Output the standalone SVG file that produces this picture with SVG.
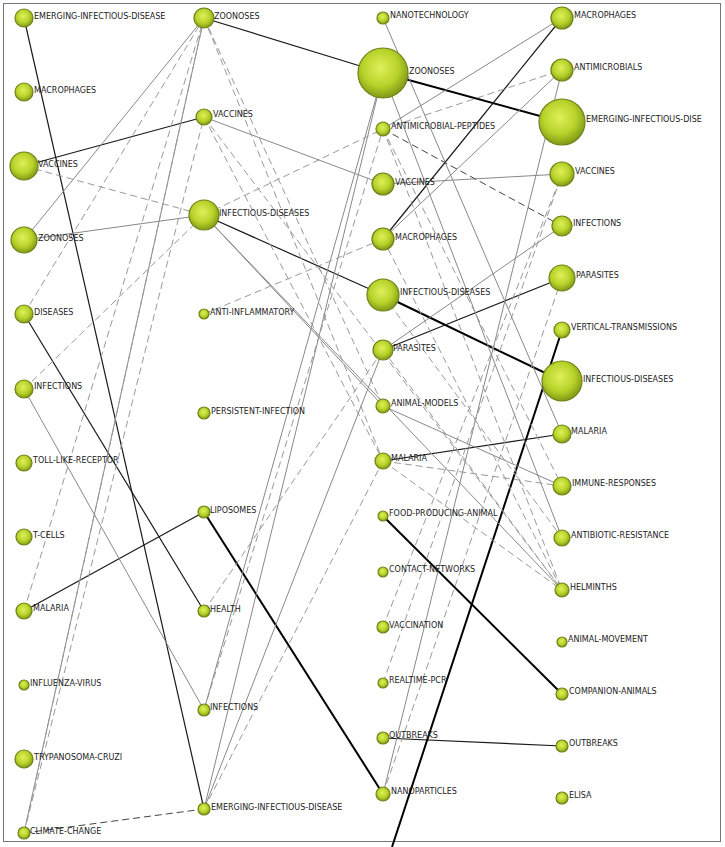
<svg xmlns="http://www.w3.org/2000/svg" width="725" height="847" viewBox="0 0 725 847">
<defs>
<radialGradient id="g" cx="0.45" cy="0.4" r="0.6">
<stop offset="0" stop-color="#dff05a"/><stop offset="0.6" stop-color="#b8d22a"/><stop offset="1" stop-color="#7f9a16"/>
</radialGradient>
<style>
circle{fill:url(#g);stroke:#6d8318;stroke-width:1.2}
text{font-family:"DejaVu Sans",Verdana,sans-serif;font-size:8px;fill:#222}
.d{stroke:#1a1a1a;stroke-width:1.2;fill:none}
.t{stroke:#000;stroke-width:2;fill:none}
.s{stroke:#888;stroke-width:1;fill:none}
.h{stroke:#999;stroke-width:1;stroke-dasharray:7,4;fill:none}
.hd{stroke:#444;stroke-width:1;stroke-dasharray:7,4;fill:none}
</style>
</defs>
<rect x="3.5" y="3.5" width="717" height="838" fill="#fff" stroke="#777" stroke-width="1"/>
<g id="connectors">
<line class="d" x1="24" y1="18" x2="204" y2="809"/>
<line class="d" x1="24" y1="166" x2="204" y2="117"/>
<line class="d" x1="24" y1="314" x2="204" y2="611"/>
<line class="d" x1="24" y1="611" x2="204" y2="512"/>
<line class="d" x1="204" y1="18" x2="383" y2="73"/>
<line class="d" x1="204" y1="215" x2="383" y2="295"/>
<line class="t" x1="204" y1="512" x2="383" y2="794"/>
<line class="t" x1="383" y1="73" x2="562" y2="122"/>
<line class="t" x1="383" y1="295" x2="562" y2="381"/>
<line class="d" x1="383" y1="239" x2="562" y2="18"/>
<line class="d" x1="383" y1="350" x2="562" y2="278"/>
<line class="d" x1="383" y1="461" x2="562" y2="434"/>
<line class="t" x1="383" y1="516" x2="562" y2="694"/>
<line class="d" x1="383" y1="738" x2="562" y2="746"/>
<line class="t" x1="562" y1="330" x2="392" y2="847"/>
<line class="s" x1="24" y1="240" x2="204" y2="18"/>
<line class="s" x1="24" y1="240" x2="204" y2="215"/>
<line class="s" x1="24" y1="389" x2="204" y2="710"/>
<line class="s" x1="24" y1="833" x2="204" y2="18"/>
<line class="s" x1="204" y1="117" x2="383" y2="184"/>
<line class="s" x1="383" y1="184" x2="562" y2="174"/>
<line class="s" x1="204" y1="215" x2="383" y2="406"/>
<line class="s" x1="383" y1="406" x2="562" y2="486"/>
<line class="s" x1="204" y1="215" x2="562" y2="590"/>
<line class="s" x1="204" y1="809" x2="383" y2="350"/>
<line class="s" x1="204" y1="809" x2="383" y2="73"/>
<line class="s" x1="204" y1="710" x2="383" y2="73"/>
<line class="s" x1="383" y1="18" x2="562" y2="434"/>
<line class="s" x1="383" y1="73" x2="562" y2="538"/>
<line class="s" x1="383" y1="129" x2="562" y2="18"/>
<line class="s" x1="383" y1="239" x2="562" y2="70"/>
<line class="s" x1="383" y1="350" x2="562" y2="226"/>
<line class="s" x1="562" y1="70" x2="383" y2="794"/>
<line class="h" x1="24" y1="166" x2="204" y2="215"/>
<line class="h" x1="24" y1="314" x2="204" y2="18"/>
<line class="h" x1="24" y1="389" x2="204" y2="215"/>
<line class="h" x1="24" y1="611" x2="204" y2="18"/>
<line class="h" x1="24" y1="833" x2="204" y2="117"/>
<line class="h" x1="24" y1="833" x2="204" y2="18"/>
<line class="hd" x1="24" y1="833" x2="204" y2="809"/>
<line class="h" x1="204" y1="18" x2="383" y2="406"/>
<line class="h" x1="204" y1="18" x2="383" y2="461"/>
<line class="h" x1="204" y1="117" x2="383" y2="461"/>
<line class="h" x1="204" y1="117" x2="562" y2="590"/>
<line class="h" x1="204" y1="314" x2="383" y2="239"/>
<line class="h" x1="204" y1="215" x2="383" y2="129"/>
<line class="h" x1="204" y1="611" x2="383" y2="350"/>
<line class="h" x1="204" y1="710" x2="383" y2="129"/>
<line class="h" x1="204" y1="809" x2="383" y2="461"/>
<line class="h" x1="383" y1="129" x2="562" y2="70"/>
<line class="hd" x1="383" y1="129" x2="562" y2="226"/>
<line class="h" x1="383" y1="129" x2="562" y2="486"/>
<line class="h" x1="383" y1="129" x2="562" y2="590"/>
<line class="h" x1="383" y1="239" x2="562" y2="590"/>
<line class="h" x1="383" y1="350" x2="562" y2="590"/>
<line class="h" x1="383" y1="295" x2="562" y2="538"/>
<line class="h" x1="383" y1="461" x2="562" y2="486"/>
<line class="h" x1="383" y1="461" x2="562" y2="590"/>
<line class="h" x1="383" y1="794" x2="562" y2="278"/>
<line class="h" x1="383" y1="683" x2="562" y2="174"/>
<line class="h" x1="383" y1="627" x2="562" y2="174"/>
</g>
<g id="c1">
<g id="n1"><circle cx="24" cy="18" r="9"/><text x="34" y="19">EMERGING-INFECTIOUS-DISEASE</text></g>
<g id="n2"><circle cx="24" cy="92" r="9"/><text x="34" y="93">MACROPHAGES</text></g>
<g id="n3"><circle cx="24" cy="166" r="14"/><text x="38" y="167">VACCINES</text></g>
<g id="n4"><circle cx="24" cy="240" r="13"/><text x="38" y="241">ZOONOSES</text></g>
<g id="n5"><circle cx="24" cy="314" r="9"/><text x="34" y="315">DISEASES</text></g>
<g id="n6"><circle cx="24" cy="389" r="9"/><text x="34" y="389">INFECTIONS</text></g>
<g id="n7"><circle cx="24" cy="463" r="8"/><text x="33" y="463">TOLL-LIKE-RECEPTOR</text></g>
<g id="n8"><circle cx="24" cy="537" r="8"/><text x="33" y="538">T-CELLS</text></g>
<g id="n9"><circle cx="24" cy="611" r="8"/><text x="33" y="611">MALARIA</text></g>
<g id="n10"><circle cx="24" cy="685" r="5"/><text x="30" y="686">INFLUENZA-VIRUS</text></g>
<g id="n11"><circle cx="24" cy="759" r="9"/><text x="34" y="760">TRYPANOSOMA-CRUZI</text></g>
<g id="n12"><circle cx="24" cy="833" r="6"/><text x="30" y="834">CLIMATE-CHANGE</text></g>
</g>
<g id="c2">
<g id="m1"><circle cx="204" cy="18" r="10"/><text x="214" y="19">ZOONOSES</text></g>
<g id="m2"><circle cx="204" cy="117" r="8"/><text x="213" y="117">VACCINES</text></g>
<g id="m3"><circle cx="204" cy="215" r="15"/><text x="219" y="216">INFECTIOUS-DISEASES</text></g>
<g id="m4"><circle cx="204" cy="314" r="5"/><text x="210" y="315">ANTI-INFLAMMATORY</text></g>
<g id="m5"><circle cx="204" cy="413" r="6"/><text x="211" y="414">PERSISTENT-INFECTION</text></g>
<g id="m6"><circle cx="204" cy="512" r="6"/><text x="210" y="513">LIPOSOMES</text></g>
<g id="m7"><circle cx="204" cy="611" r="6"/><text x="210" y="612">HEALTH</text></g>
<g id="m8"><circle cx="204" cy="710" r="6"/><text x="210" y="710">INFECTIONS</text></g>
<g id="m9"><circle cx="204" cy="809" r="6"/><text x="211" y="810">EMERGING-INFECTIOUS-DISEASE</text></g>
</g>
<g id="c3">
<g id="p1"><circle cx="383" cy="18" r="6"/><text x="390" y="18">NANOTECHNOLOGY</text></g>
<g id="p2"><circle cx="383" cy="73" r="25"/><text x="409" y="74">ZOONOSES</text></g>
<g id="p3"><circle cx="383" cy="129" r="7"/><text x="391" y="129">ANTIMICROBIAL-PEPTIDES</text></g>
<g id="p4"><circle cx="383" cy="184" r="11"/><text x="395" y="185">VACCINES</text></g>
<g id="p5"><circle cx="383" cy="239" r="11"/><text x="395" y="240">MACROPHAGES</text></g>
<g id="p6"><circle cx="383" cy="295" r="16"/><text x="400" y="295">INFECTIOUS-DISEASES</text></g>
<g id="p7"><circle cx="383" cy="350" r="10"/><text x="393" y="351">PARASITES</text></g>
<g id="p8"><circle cx="383" cy="406" r="7"/><text x="391" y="406">ANIMAL-MODELS</text></g>
<g id="p9"><circle cx="383" cy="461" r="8"/><text x="391" y="461">MALARIA</text></g>
<g id="p10"><circle cx="383" cy="516" r="5"/><text x="389" y="516">FOOD-PRODUCING-ANIMAL</text></g>
<g id="p11"><circle cx="383" cy="572" r="5"/><text x="389" y="572">CONTACT-NETWORKS</text></g>
<g id="p12"><circle cx="383" cy="627" r="6"/><text x="389" y="628">VACCINATION</text></g>
<g id="p13"><circle cx="383" cy="683" r="5"/><text x="389" y="683">REALTIME-PCR</text></g>
<g id="p14"><circle cx="383" cy="738" r="6"/><text x="389" y="738">OUTBREAKS</text></g>
<g id="p15"><circle cx="383" cy="794" r="7"/><text x="391" y="794">NANOPARTICLES</text></g>
</g>
<g id="c4">
<g id="q1"><circle cx="562" cy="18" r="11"/><text x="574" y="18">MACROPHAGES</text></g>
<g id="q2"><circle cx="562" cy="70" r="11"/><text x="574" y="70">ANTIMICROBIALS</text></g>
<g id="q3"><circle cx="562" cy="122" r="23"/><text x="586" y="122">EMERGING-INFECTIOUS-DISE</text></g>
<g id="q4"><circle cx="562" cy="174" r="12"/><text x="575" y="174">VACCINES</text></g>
<g id="q5"><circle cx="562" cy="226" r="10"/><text x="573" y="226">INFECTIONS</text></g>
<g id="q6"><circle cx="562" cy="278" r="13"/><text x="576" y="278">PARASITES</text></g>
<g id="q7"><circle cx="562" cy="330" r="8"/><text x="571" y="330">VERTICAL-TRANSMISSIONS</text></g>
<g id="q8"><circle cx="562" cy="381" r="20"/><text x="583" y="382">INFECTIOUS-DISEASES</text></g>
<g id="q9"><circle cx="562" cy="434" r="9"/><text x="571" y="434">MALARIA</text></g>
<g id="q10"><circle cx="562" cy="486" r="9"/><text x="572" y="486">IMMUNE-RESPONSES</text></g>
<g id="q11"><circle cx="562" cy="538" r="8"/><text x="571" y="538">ANTIBIOTIC-RESISTANCE</text></g>
<g id="q12"><circle cx="562" cy="590" r="7"/><text x="570" y="590">HELMINTHS</text></g>
<g id="q13"><circle cx="562" cy="642" r="5"/><text x="568" y="642">ANIMAL-MOVEMENT</text></g>
<g id="q14"><circle cx="562" cy="694" r="6"/><text x="569" y="694">COMPANION-ANIMALS</text></g>
<g id="q15"><circle cx="562" cy="746" r="6"/><text x="569" y="746">OUTBREAKS</text></g>
<g id="q16"><circle cx="562" cy="798" r="6"/><text x="569" y="798">ELISA</text></g>
</g>
</svg>
